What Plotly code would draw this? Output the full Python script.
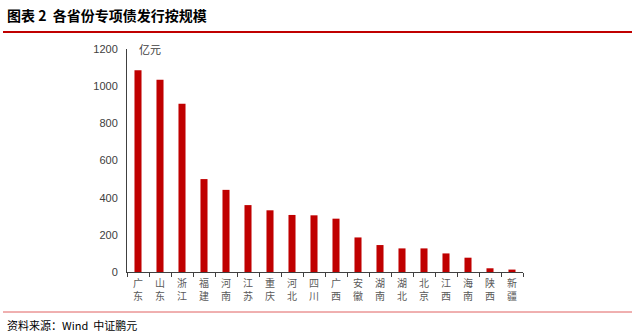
import plotly.graph_objects as go

provinces = ["广东", "山东", "浙江", "福建", "河南", "江苏", "重庆", "河北", "四川",
             "广西", "安徽", "湖南", "湖北", "北京", "江西", "海南", "陕西", "新疆"]
values = [1085, 1035, 905, 500, 442, 360, 332, 307, 305,
          287, 186, 145, 127, 127, 100, 77, 20, 13]
y_ticks = [0, 200, 400, 600, 800, 1000, 1200]

W, H = 632, 336
L, R, T, B = 127, 523, 49, 272
pw, ph = R - L, B - T


def px(x):
    return (x - L) / pw


def py(y):
    return (B - y) / ph


labels = ["<br>".join(list(p)) for p in provinces]

fig = go.Figure()
fig.add_trace(go.Bar(x=labels, y=values, marker=dict(color="#C00000", line=dict(width=0)),
                     width=0.32))

fig.update_layout(
    width=W, height=H,
    margin=dict(l=L, r=W - R, t=T, b=H - B),
    paper_bgcolor="white", plot_bgcolor="white",
    showlegend=False,
    font=dict(family="Liberation Sans, Noto Sans CJK SC", size=11, color="#404040"),
    xaxis=dict(
        type="category", showline=True, linecolor="#404040", linewidth=1,
        ticks="outside", ticklen=4, tickcolor="#404040", tickson="boundaries",
        showgrid=False,
        tickfont=dict(family="Liberation Sans, Noto Sans CJK SC", size=10, color="#595959"),
        range=[-0.5, len(provinces) - 0.5], ticklabelstandoff=2,
    ),
    yaxis=dict(
        range=[0, 1200], tickvals=y_ticks, showline=True, linecolor="#404040", linewidth=1,
        showgrid=False, zeroline=False, ticks="", ticklabelstandoff=6,
        tickfont=dict(family="Liberation Sans", size=11, color="#404040"),
    ),
)

fig.add_annotation(x=px(137), y=py(49), xref="paper", yref="paper", text="亿元",
                   showarrow=False, xanchor="left", yanchor="middle",
                   font=dict(family="Noto Sans CJK SC", size=11, color="#404040"))
fig.add_annotation(x=px(5), y=py(15), xref="paper", yref="paper",
                   text="<b>图表 2  各省份专项债发行按规模</b>",
                   showarrow=False, xanchor="left", yanchor="middle",
                   font=dict(family="Noto Sans CJK SC", size=14, color="#000000"))
fig.add_annotation(x=px(5), y=py(325), xref="paper", yref="paper",
                   text="资料来源：Wind  中证鹏元",
                   showarrow=False, xanchor="left", yanchor="middle",
                   font=dict(family="Noto Sans CJK SC", size=11, color="#000000"))

fig.add_shape(type="line", xref="paper", yref="paper", x0=px(3), x1=px(632),
              y0=py(32), y1=py(32), line=dict(color="#C00000", width=2))
fig.add_shape(type="line", xref="paper", yref="paper", x0=px(3), x1=px(632),
              y0=py(312), y1=py(312), line=dict(color="#E06060", width=1))

fig.write_html("out.html")
